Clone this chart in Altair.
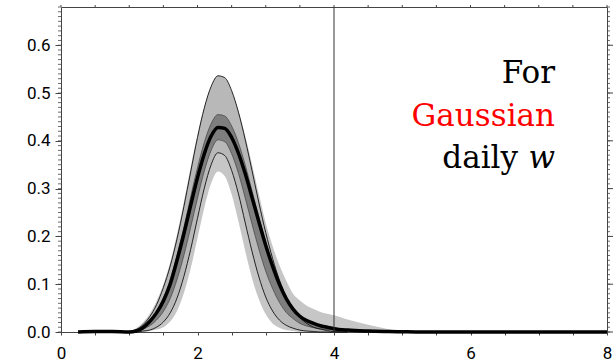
import altair as alt
import pandas as pd

# x positions of the sampled curves
xs = [0.25, 0.5, 0.75, 1.0,
      1.1, 1.2, 1.3, 1.4, 1.5, 1.6, 1.7, 1.8, 1.9, 2.0,
      2.1, 2.2, 2.3, 2.4, 2.5, 2.6, 2.7, 2.8, 2.9, 3.0,
      3.1, 3.2, 3.3, 3.4, 3.5, 3.6, 3.7, 3.8, 3.9, 4.0,
      4.2, 4.5, 4.8, 5.0, 5.2, 6.0, 7.0, 8.0]

# thick black central curve
mean = [0, 0.001, 0.001, 0,
        0.002, 0.009, 0.022, 0.040, 0.065, 0.100, 0.150, 0.205, 0.265, 0.323,
        0.373, 0.410, 0.428, 0.426, 0.407, 0.374, 0.331, 0.281, 0.230, 0.181,
        0.138, 0.100, 0.070, 0.048, 0.033, 0.024, 0.018, 0.013, 0.010, 0.007,
        0.004, 0.002, 0.001, 0.0005, 0, 0, 0, 0]

# hatched band (thin outlined)
hatch_hi = [0, 0, 0, 0,
            0.005, 0.015, 0.032, 0.057, 0.093, 0.138, 0.195, 0.262, 0.335, 0.407,
            0.469, 0.514, 0.536, 0.532, 0.505, 0.460, 0.402, 0.337, 0.270, 0.208,
            0.154, 0.109, 0.074, 0.048, 0.030, 0.018, 0.010, 0.006, 0.003, 0.001,
            0, 0, 0, 0, 0, 0, 0, 0]
hatch_lo = [0, 0, 0, 0,
            0, 0.002, 0.004, 0.010, 0.021, 0.040, 0.071, 0.116, 0.173, 0.238,
            0.301, 0.350, 0.375, 0.369, 0.338, 0.289, 0.228, 0.168, 0.115, 0.073,
            0.044, 0.025, 0.014, 0.008, 0.004, 0.002, 0.001, 0, 0, 0,
            0, 0, 0, 0, 0, 0, 0, 0]

# dark grey band
dark_hi = [0, 0, 0, 0,
           0.003, 0.011, 0.025, 0.044, 0.072, 0.110, 0.161, 0.219, 0.283, 0.344,
           0.397, 0.436, 0.455, 0.452, 0.431, 0.396, 0.349, 0.295, 0.240, 0.188,
           0.142, 0.102, 0.071, 0.048, 0.034, 0.025, 0.019, 0.014, 0.011, 0.008,
           0.005, 0.0025, 0.001, 0.0005, 0, 0, 0, 0]
dark_lo = [0, 0, 0, 0,
           0.001, 0.0055, 0.013, 0.025, 0.043, 0.070, 0.110, 0.160, 0.219, 0.280,
           0.337, 0.380, 0.402, 0.398, 0.373, 0.332, 0.280, 0.225, 0.173, 0.127,
           0.091, 0.062, 0.041, 0.028, 0.018, 0.0125, 0.009, 0.0065, 0.005, 0.0035,
           0.002, 0.001, 0, 0, 0, 0, 0, 0]

# light grey band
light_hi = [0, 0, 0, 0.002,
            0.008, 0.020, 0.038, 0.065, 0.100, 0.146, 0.205, 0.272, 0.345, 0.413,
            0.470, 0.510, 0.528, 0.525, 0.502, 0.462, 0.410, 0.350, 0.288, 0.228,
            0.180, 0.140, 0.107, 0.080, 0.066, 0.055, 0.048, 0.042, 0.038, 0.035,
            0.026, 0.015, 0.006, 0.002, 0, 0, 0, 0]
light_lo = [0, 0, 0, 0,
            0, 0, 0.002, 0.005, 0.010, 0.022, 0.044, 0.081, 0.133, 0.196,
            0.260, 0.311, 0.336, 0.326, 0.288, 0.231, 0.169, 0.112, 0.068, 0.037,
            0.018, 0.009, 0.004, 0.002, 0, 0, 0, 0, 0, 0,
            0, 0, 0, 0, 0, 0, 0, 0]

vline_x = [4]
y_major = [0.0, 0.1, 0.2, 0.3, 0.4, 0.5, 0.6]
y_minor = [round(i * 0.01, 2) for i in range(69)]
x_ticks = [i * 0.5 for i in range(17)]
txt_for = ["For"]
txt_gauss = ["Gaussian"]
txt_daily = ["daily"]
txt_w = ["w"]

df = pd.DataFrame({"x": xs, "m": mean, "hh": hatch_hi, "hl": hatch_lo,
                   "dh": dark_hi, "dl": dark_lo, "gh": light_hi, "gl": light_lo})

W, H = 546, 325
xsc = alt.Scale(domain=[0, 8], nice=False, zero=False)
ysc = alt.Scale(domain=[0, 0.68], nice=False, zero=False)
FONT = "Roboto"
SERIF = "DejaVu Serif"
AX = "#444444"

base = alt.Chart(df)
X0 = alt.X("x:Q", scale=xsc, axis=None)

# axis-only layer (invisible points)
axes_layer = base.mark_point(opacity=0).encode(
    x=alt.X("x:Q", scale=xsc, title=None,
            axis=alt.Axis(values=x_ticks, tickSize=3, tickColor=AX, domain=False, grid=False,
                          labelExpr="datum.value % 2 == 0 ? format(datum.value, 'd') : ''",
                          labelFont=FONT, labelFontSize=17, labelColor="black",
                          labelPadding=10, labelFlush=False, labelOverlap=False)),
    y=alt.Y("m:Q", scale=ysc, title=None,
            axis=alt.Axis(values=y_major, format=".1f", tickSize=6, tickColor=AX, domain=False,
                          grid=False, labelFont=FONT, labelFontSize=17, labelColor="black",
                          labelPadding=5, labelOverlap=False)))

light = base.mark_area(color="#c6c6c6", interpolate="monotone").encode(
    x=X0, y=alt.Y("gh:Q", scale=ysc, axis=None), y2="gl:Q")

hatch = base.mark_area(color="#b8b8b8", interpolate="monotone").encode(
    x=X0, y=alt.Y("hh:Q", scale=ysc, axis=None), y2="hl:Q")

dark = base.mark_area(color="#7e7e7e", interpolate="monotone").encode(
    x=X0, y=alt.Y("dh:Q", scale=ysc, axis=None), y2="dl:Q")

rng = "datum.x >= 1.0 && datum.x <= 4.2"
def thin(field, w, c):
    return base.transform_filter(rng).mark_line(color=c, strokeWidth=w, interpolate="monotone").encode(
        x=X0, y=alt.Y(f"{field}:Q", scale=ysc, axis=None))

dark_edges = thin("dh", 0.6, "#333333") + thin("dl", 0.6, "#333333")
outlines = thin("hh", 0.9, "#111111") + thin("hl", 0.9, "#111111")

mean_line = base.mark_line(color="black", strokeWidth=3.5, interpolate="monotone").encode(
    x=X0, y=alt.Y("m:Q", scale=ysc, axis=None))

vline = alt.Chart(pd.DataFrame({"x": vline_x})).mark_rule(color="#333333", strokeWidth=1).encode(
    x=alt.X("x:Q", scale=xsc, axis=None))

dmin = pd.DataFrame({"v": y_minor})
dmaj = pd.DataFrame({"v": y_major})
dxt = pd.DataFrame({"v": x_ticks})
left_minor = alt.Chart(dmin).mark_rule(color=AX, strokeWidth=0.8).encode(
    y=alt.Y("v:Q", scale=ysc, axis=None), x=alt.value(-3), x2=alt.value(0))
right_minor = alt.Chart(dmin).mark_rule(color=AX, strokeWidth=0.8).encode(
    y=alt.Y("v:Q", scale=ysc, axis=None), x=alt.value(W), x2=alt.value(W + 3))
right_major = alt.Chart(dmaj).mark_rule(color=AX, strokeWidth=1).encode(
    y=alt.Y("v:Q", scale=ysc, axis=None), x=alt.value(W), x2=alt.value(W + 6))
top_ticks = alt.Chart(dxt).mark_rule(color=AX, strokeWidth=1).encode(
    x=alt.X("v:Q", scale=xsc, axis=None), y=alt.value(-2), y2=alt.value(0))

def label(lst, xpx, ypx, color="black", style="normal"):
    return alt.Chart(pd.DataFrame({"t": lst})).mark_text(
        align="right", baseline="alphabetic", font=SERIF, fontSize=31,
        color=color, fontStyle=style).encode(text="t:N", x=alt.value(xpx), y=alt.value(ypx))

texts = (label(txt_for, 494, 76)
         + label(txt_gauss, 494, 119, color="#ff0000")
         + label(txt_daily, 457, 161)
         + label(txt_w, 494, 161, style="italic"))

chart = alt.layer(
    axes_layer, light, hatch, dark, dark_edges, outlines, mean_line, vline,
    left_minor, right_minor, right_major, top_ticks, texts
).resolve_axis(x="independent", y="independent").properties(
    width=W, height=H,
    autosize=alt.AutoSizeParams(type="none"),
    padding={"left": 61, "top": 7, "right": 9, "bottom": 30},
    background="white"
).configure_view(stroke=AX, strokeWidth=1)

chart.save("out.html", embed_options={"renderer": "svg", "actions": False})
